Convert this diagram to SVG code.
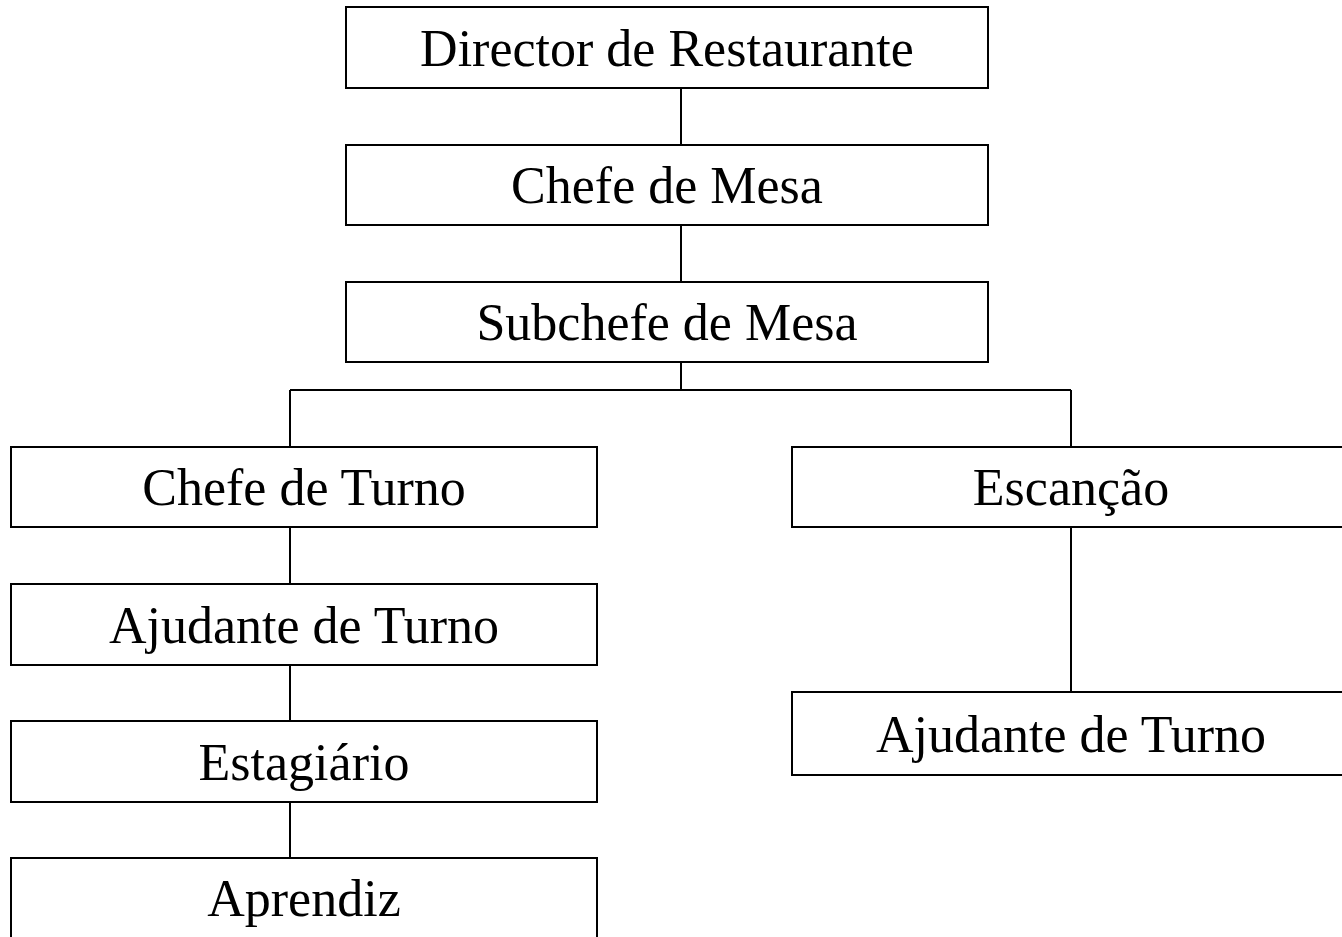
<svg xmlns="http://www.w3.org/2000/svg" width="1342" height="937" viewBox="0 0 1342 937">
<style>
rect.box{fill:#fff;stroke:#000;stroke-width:2}
text{font-family:"Liberation Serif","DejaVu Serif",serif;font-size:52px;text-anchor:middle;fill:#000}
.con line{stroke:#000;stroke-width:2}
</style>
<rect width="1342" height="937" fill="#fff"/>
<g class="con" id="connectors">
<line x1="681" y1="88" x2="681" y2="145"/>
<line x1="681" y1="225" x2="681" y2="282"/>
<line x1="681" y1="362" x2="681" y2="390"/>
<line x1="290" y1="390" x2="1071" y2="390"/>
<line x1="290" y1="390" x2="290" y2="447"/>
<line x1="1071" y1="390" x2="1071" y2="447"/>
<line x1="290" y1="527" x2="290" y2="584"/>
<line x1="290" y1="665" x2="290" y2="721"/>
<line x1="290" y1="802" x2="290" y2="858"/>
<line x1="1071" y1="527" x2="1071" y2="692"/>
</g>
<g id="director"><rect class="box" x="346" y="7" width="642" height="81"/><text x="667" y="66">Director de Restaurante</text></g>
<g id="chefe-mesa"><rect class="box" x="346" y="145" width="642" height="80"/><text x="667" y="203">Chefe de Mesa</text></g>
<g id="subchefe-mesa"><rect class="box" x="346" y="282" width="642" height="80"/><text x="667" y="340">Subchefe de Mesa</text></g>
<g id="chefe-turno"><rect class="box" x="11" y="447" width="586" height="80"/><text x="304" y="505">Chefe de Turno</text></g>
<g id="escancao"><rect class="box" x="792" y="447" width="560" height="80"/><text x="1071" y="505">Escanção</text></g>
<g id="ajudante-turno-1"><rect class="box" x="11" y="584" width="586" height="81"/><text x="304" y="643">Ajudante de Turno</text></g>
<g id="estagiario"><rect class="box" x="11" y="721" width="586" height="81"/><text x="304" y="780">Estagiário</text></g>
<g id="aprendiz"><rect class="box" x="11" y="858" width="586" height="90"/><text x="304" y="916">Aprendiz</text></g>
<g id="ajudante-turno-2"><rect class="box" x="792" y="692" width="560" height="83"/><text x="1071" y="752">Ajudante de Turno</text></g>
</svg>
